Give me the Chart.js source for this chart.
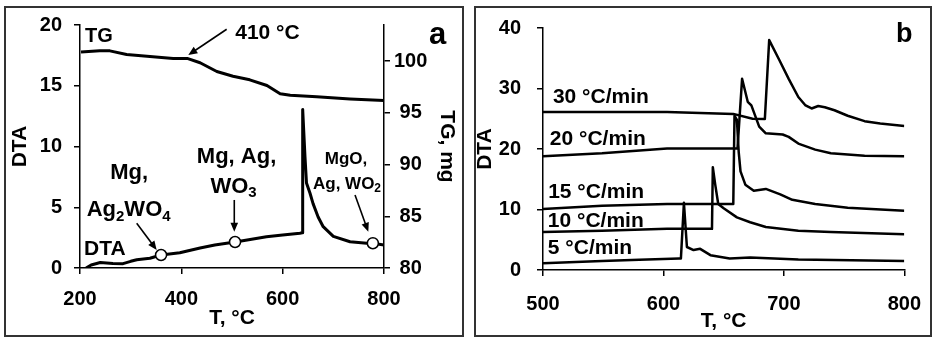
<!DOCTYPE html>
<html>
<head>
<meta charset="utf-8">
<script src="https://cdn.jsdelivr.net/npm/chart.js@4.4.1/dist/chart.umd.min.js"></script>
<style>
  html, body { margin: 0; padding: 0; background: #fff; }
  #page { position: relative; width: 937px; height: 339px; overflow: hidden; }
  .frame { position: absolute; border: 2px solid #333; box-sizing: border-box; }
  canvas { position: absolute; top: 0; }
</style>
</head>
<body>
<div id="page">
  <div class="frame" style="left:4px;top:6px;width:460px;height:331px"></div>
  <div class="frame" style="left:474px;top:6px;width:458px;height:331px"></div>
  <canvas id="chartA" width="470" height="339" style="left:0"></canvas>
  <canvas id="chartB" width="467" height="339" style="left:470px"></canvas>
</div>
<script>
// Panel a: TG and DTA, T in °C
const tgTemp = [202, 239, 259, 292, 338, 384, 413, 437, 470, 502, 535, 569, 595, 615, 667, 733, 800];
const tgMass = [100.9, 101.0, 101.0, 100.65, 100.45, 100.25, 100.25, 99.85, 99.0, 98.55, 98.2, 97.65, 96.85, 96.7, 96.55, 96.35, 96.2];

const dtaTemp = [212, 222, 240, 265, 285, 300, 312, 338, 360, 397, 437, 466, 506, 530, 568, 600, 634, 638.5, 639.5, 644, 647, 654, 660, 670, 680, 700, 733, 766, 778, 800];
const dtaSignal = [0.0, 0.25, 0.45, 0.38, 0.36, 0.55, 0.68, 0.8, 1.07, 1.26, 1.65, 1.9, 2.14, 2.3, 2.58, 2.72, 2.86, 2.9, 13.05, 9.2, 7.0, 6.15, 5.3, 4.2, 3.4, 2.6, 2.16, 2.03, 2.04, 1.9];

// open circles on the DTA curve
const phaseTemp = [360, 506, 778];
const phaseDta = [1.07, 2.14, 2.04];

const xTicksA = [200, 400, 600, 800];
const dtaTicksA = [0, 5, 10, 15, 20];
const tgTicksA = [80, 85, 90, 95, 100];

// Panel b: DTA at several heating rates
const rate5Temp = [500, 549, 580, 613, 614.5, 617, 619.5, 625, 630.5, 639, 655, 672, 712, 800];
const rate5Dta = [1.1, 1.5, 1.7, 1.9, 1.9, 11.1, 3.8, 3.3, 3.5, 2.45, 1.9, 2.05, 1.74, 1.5];
const rate10Temp = [500, 549, 603, 640.3, 641, 643, 645.5, 650, 661, 672, 685, 712, 739, 800];
const rate10Dta = [6.3, 6.5, 6.8, 6.8, 17.0, 14.1, 10.9, 10.2, 8.7, 7.9, 7.1, 6.5, 6.3, 5.9];
const rate15Temp = [500, 549, 603, 655, 658, 659, 661, 662.5, 664, 668, 675, 685, 697, 707, 726, 753, 800];
const rate15Dta = [10.1, 10.6, 10.9, 10.9, 10.9, 25.5, 24.8, 19.5, 16.3, 14.1, 13.1, 13.4, 12.5, 11.6, 10.9, 10.3, 9.8];
const rate20Temp = [500, 549, 603, 661.5, 665.3, 670, 673, 679.5, 685, 699, 704, 712, 726, 739, 767, 800];
const rate20Dta = [18.8, 19.3, 20.1, 20.1, 31.6, 27.8, 27.2, 23.7, 22.6, 22.4, 22.0, 20.9, 19.9, 19.3, 18.9, 18.8];
const rate30Temp = [500, 603, 658, 674, 684.2, 687.8, 696, 704, 712, 718, 723, 728.5, 734, 742, 753, 767, 780, 800];
const rate30Dta = [26.1, 26.1, 25.8, 25.0, 24.95, 38.0, 34.8, 31.6, 28.6, 27.2, 26.7, 27.1, 26.9, 26.4, 25.5, 24.6, 24.2, 23.8];

const xTicksB = [500, 600, 700, 800];
const dtaTicksB = [0, 10, 20, 30, 40];

const FONT = '"Liberation Sans", Arial, sans-serif';
Chart.defaults.font.family = FONT;
Chart.defaults.font.weight = 'bold';
Chart.defaults.color = '#000';

const pts = (xs, ys) => xs.map((x, i) => ({ x, y: ys[i] }));
const fixTicks = list => s => { s.ticks = list.map(value => ({ value })); };

// text with optional subscripts, y is the middle of the capitals
function drawRich(ctx, parts, x, y, size, align) {
  const font = s => `bold ${s}px ${FONT}`;
  const small = Math.round(size * 0.68);
  let total = 0;
  const widths = parts.map(([text, kind]) => {
    ctx.font = font(kind ? small : size);
    const w = ctx.measureText(text).width;
    total += w;
    return w;
  });
  let cx = align === 'left' ? x : x - total / 2;
  const base = y + size * 0.358;
  ctx.textAlign = 'left';
  ctx.textBaseline = 'alphabetic';
  parts.forEach(([text, kind], i) => {
    ctx.font = font(kind ? small : size);
    ctx.fillText(text, cx, kind === 'sub' ? base + size * 0.2 : base);
    cx += widths[i];
  });
}

function drawArrow(ctx, x1, y1, x2, y2) {
  const a = Math.atan2(y2 - y1, x2 - x1), head = 9, half = 3.8;
  const c = Math.cos(a), s = Math.sin(a);
  ctx.lineWidth = 1.6;
  ctx.beginPath();
  ctx.moveTo(x1, y1);
  ctx.lineTo(x2 - c * head * 0.8, y2 - s * head * 0.8);
  ctx.stroke();
  ctx.beginPath();
  ctx.moveTo(x2, y2);
  ctx.lineTo(x2 - head * c + half * s, y2 - head * s - half * c);
  ctx.lineTo(x2 - head * c - half * s, y2 - head * s + half * c);
  ctx.closePath();
  ctx.fill();
}

const notesPlugin = {
  id: 'notes',
  afterDatasetsDraw(chart, args, opts) {
    const { ctx, chartArea } = chart;
    const xs = chart.scales.x, ys = chart.scales.y;
    ctx.save();
    ctx.fillStyle = '#000';
    ctx.strokeStyle = '#000';
    (opts.arrows || []).forEach(a => drawArrow(ctx,
      xs.getPixelForValue(a.from[0]), ys.getPixelForValue(a.from[1]),
      xs.getPixelForValue(a.to[0]), ys.getPixelForValue(a.to[1])));
    (opts.labels || []).forEach(l => drawRich(ctx, l.parts,
      xs.getPixelForValue(l.x), ys.getPixelForValue(l.y), l.size, l.align));
    if (opts.letter) {
      ctx.font = `bold ${opts.letter.size}px ${FONT}`;
      ctx.textAlign = 'center';
      ctx.textBaseline = 'alphabetic';
      ctx.fillText(opts.letter.text, chartArea.right + opts.letter.dx, chartArea.top + opts.letter.dy);
    }
    ctx.restore();
  }
};

function axisStyle(extra) {
  return Object.assign({
    type: 'linear',
    grid: { drawOnChartArea: false, drawTicks: true, tickLength: 6, color: '#000', lineWidth: 1.5 },
    border: { display: true, color: '#000', width: 1.5 },
  }, extra);
}

const lineStyle = (w) => ({ borderColor: '#000', borderWidth: w, pointRadius: 0, tension: 0, borderJoinStyle: 'round', order: 1 });

new Chart(document.getElementById('chartA'), {
  type: 'line',
  data: {
    datasets: [
      { data: pts(phaseTemp, phaseDta), yAxisID: 'y', showLine: false, pointRadius: 5.5,
        pointBackgroundColor: '#fff', pointBorderColor: '#000', pointBorderWidth: 1.5, order: 0 },
      Object.assign({ data: pts(dtaTemp, dtaSignal), yAxisID: 'y' }, lineStyle(3)),
      Object.assign({ data: pts(tgTemp, tgMass), yAxisID: 'y2' }, lineStyle(3))
    ]
  },
  options: {
    responsive: false,
    animation: false,
    layout: { padding: { top: 25, left: 0, right: 0, bottom: 0 } },
    plugins: {
      legend: { display: false },
      tooltip: { enabled: false },
      notes: {
        labels: [
          { x: 210, y: 19.2, size: 20, align: 'left', parts: [['TG']] },
          { x: 570, y: 19.5, size: 21, parts: [['410 °C']] },
          { x: 509, y: 9.26, size: 22, parts: [['Mg, Ag,']] },
          { x: 503, y: 6.85, size: 22, parts: [['WO'], ['3', 'sub']] },
          { x: 297, y: 7.94, size: 22, parts: [['Mg,']] },
          { x: 296, y: 4.9, size: 22, parts: [['Ag'], ['2', 'sub'], ['WO'], ['4', 'sub']] },
          { x: 249, y: 1.7, size: 21, parts: [['DTA']] },
          { x: 725, y: 9.1, size: 17, parts: [['MgO,']] },
          { x: 727, y: 7.04, size: 17, parts: [['Ag, WO'], ['2', 'sub']] }
        ],
        arrows: [
          { from: [489.5, 19.65], to: [413.8, 17.53] },
          { from: [311.9, 3.68], to: [351.4, 1.48] },
          { from: [504.5, 5.6], to: [504.5, 2.99] },
          { from: [742.8, 6.0], to: [769, 2.99] }
        ],
        letter: { text: 'a', size: 31, dx: 53.5, dy: 18.5 }
      }
    },
    scales: {
      x: axisStyle({
        min: 200, max: 800,
        afterBuildTicks: fixTicks(xTicksA),
        afterFit: s => { s.height = 71; },
        ticks: { padding: 13, maxRotation: 0, font: { size: 20, weight: 'bold' } },
        title: { display: true, text: 'T, °C', font: { size: 21, weight: 'bold' }, padding: { top: 0, bottom: 8 } }
      }),
      y: axisStyle({
        position: 'left', min: 0, max: 20,
        afterBuildTicks: fixTicks(dtaTicksA),
        afterFit: s => { s.width = 80; },
        ticks: { padding: 12, font: { size: 20, weight: 'bold' } },
        title: { display: true, text: 'DTA', font: { size: 21, weight: 'bold' }, padding: { top: 8, bottom: 0 } }
      }),
      y2: axisStyle({
        position: 'right', min: 80, max: 103.5,
        afterBuildTicks: fixTicks(tgTicksA),
        afterFit: s => { s.width = 86; },
        ticks: { padding: 4, crossAlign: 'center', font: { size: 20, weight: 'bold' } },
        title: { display: true, text: 'TG, mg', font: { size: 21, weight: 'bold' }, padding: { top: 11, bottom: 0 } }
      })
    }
  },
  plugins: [notesPlugin]
});

new Chart(document.getElementById('chartB'), {
  type: 'line',
  data: {
    datasets: [
      Object.assign({ data: pts(rate5Temp, rate5Dta) }, lineStyle(2.5)),
      Object.assign({ data: pts(rate10Temp, rate10Dta) }, lineStyle(2.5)),
      Object.assign({ data: pts(rate15Temp, rate15Dta) }, lineStyle(2.5)),
      Object.assign({ data: pts(rate20Temp, rate20Dta) }, lineStyle(2.5)),
      Object.assign({ data: pts(rate30Temp, rate30Dta) }, lineStyle(2.5))
    ]
  },
  options: {
    responsive: false,
    animation: false,
    layout: { padding: { top: 25, left: 0, right: 26, bottom: 0 } },
    plugins: {
      legend: { display: false },
      tooltip: { enabled: false },
      notes: {
        labels: [
          { x: 508.2, y: 28.9, size: 21, align: 'left', parts: [['30 °C/min']] },
          { x: 505.7, y: 21.9, size: 21, align: 'left', parts: [['20 °C/min']] },
          { x: 504.3, y: 13.1, size: 21, align: 'left', parts: [['15 °C/min']] },
          { x: 504, y: 8.3, size: 21, align: 'left', parts: [['10 °C/min']] },
          { x: 504, y: 3.95, size: 21, align: 'left', parts: [['5 °C/min']] }
        ],
        letter: { text: 'b', size: 27, dx: 0, dy: 13.5 }
      }
    },
    scales: {
      x: axisStyle({
        min: 500, max: 800,
        afterBuildTicks: fixTicks(xTicksB),
        afterFit: s => { s.height = 69; },
        ticks: { padding: 16, maxRotation: 0, font: { size: 20, weight: 'bold' } },
        title: { display: true, text: 'T, °C', font: { size: 21, weight: 'bold' }, padding: { top: 0, bottom: 5 } }
      }),
      y: axisStyle({
        position: 'left', min: 0, max: 40,
        afterBuildTicks: fixTicks(dtaTicksB),
        afterFit: s => { s.width = 73; },
        ticks: { padding: 16, font: { size: 20, weight: 'bold' } },
        title: { display: true, text: 'DTA', font: { size: 21, weight: 'bold' }, padding: { top: 3, bottom: 0 } }
      })
    }
  },
  plugins: [notesPlugin]
});
</script>
</body>
</html>
